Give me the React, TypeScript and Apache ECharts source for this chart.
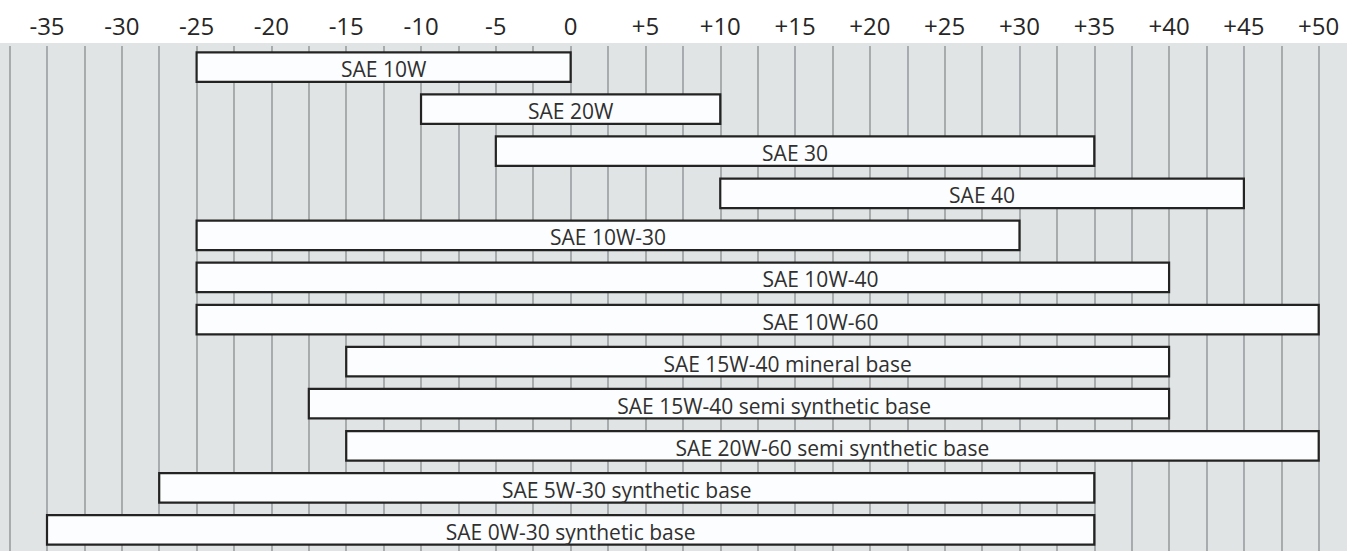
import React, { useEffect, useRef } from "react";
import * as echarts from "echarts";

const categories = [
  "SAE 10W",
  "SAE 20W",
  "SAE 30",
  "SAE 40",
  "SAE 10W-30",
  "SAE 10W-40",
  "SAE 10W-60",
  "SAE 15W-40 mineral base",
  "SAE 15W-40 semi synthetic base",
  "SAE 20W-60 semi synthetic base",
  "SAE 5W-30 synthetic base",
  "SAE 0W-30 synthetic base",
];
const startValues = [-25, -10, -5, 10, -25, -25, -25, -15, -17.5, -15, -27.5, -35];
const endValues = [0, 10, 35, 45, 30, 40, 50, 40, 40, 50, 35, 35];
// label centre (°C) where the label is not centred in its bar; null = centred
const labelCenters: (number | null)[] = [null, null, null, null, null, 16.7, 16.7, 14.5, 13.6, null, null, null];
const tickLabels: Record<string, string> = {
  "-35": "-35", "-30": "-30", "-25": "-25", "-20": "-20", "-15": "-15", "-10": "-10", "-5": "-5",
  "0": "0", "5": "+5", "10": "+10", "15": "+15", "20": "+20", "25": "+25", "30": "+30",
  "35": "+35", "40": "+40", "45": "+45", "50": "+50",
};

export default function App() {
  const ref = useRef<HTMLDivElement>(null);
  useEffect(() => {
    document.body.style.margin = "0";
    const chart = echarts.init(ref.current!, null, { renderer: "svg" });
    const data = categories.map((c, i) => [
      i,
      startValues[i],
      endValues[i],
      labelCenters[i] ?? (startValues[i] + endValues[i]) / 2,
    ]);
    chart.setOption({
      animation: false,
      backgroundColor: "#ffffff",
      graphic: [
        {
          type: "rect",
          z: -10,
          shape: { x: 0, y: 43, width: 1347, height: 520 },
          style: { fill: "#e1e4e5" },
          silent: true,
        },
      ],
      grid: { left: 9.6, right: 28.3, top: 46, bottom: -1, containLabel: false },
      xAxis: {
        type: "value",
        position: "top",
        min: -37.5,
        max: 50,
        interval: 2.5,
        axisLine: { show: false },
        axisTick: { show: false },
        splitLine: { show: true, lineStyle: { color: "#9a9d9f", width: 1.6 } },
        axisLabel: {
          interval: 0,
          margin: 9,
          fontFamily: "Open Sans",
          fontSize: 24,
          color: "#262626",
          formatter: (v: number) => tickLabels[String(v)] ?? "",
        },
      },
      yAxis: {
        type: "category",
        data: categories,
        inverse: true,
        show: false,
      },
      series: [
        {
          type: "custom",
          encode: { x: [1, 2], y: 0 },
          data,
          renderItem: (params: any, api: any) => {
            const cat = api.value(0);
            const s = api.coord([api.value(1), cat]);
            const e = api.coord([api.value(2), cat]);
            const c = api.coord([api.value(3), cat]);
            const h = 29.5;
            return {
              type: "group",
              children: [
                {
                  type: "rect",
                  shape: { x: s[0], y: s[1] - h / 2, width: e[0] - s[0], height: h },
                  style: { fill: "#fcfdfe", stroke: "#232323", lineWidth: 2.2 },
                },
                {
                  type: "text",
                  x: c[0],
                  y: s[1] + 2,
                  style: {
                    text: categories[cat],
                    align: "center",
                    verticalAlign: "middle",
                    fontFamily: "Open Sans",
                    fontSize: 21,
                    fill: "#303030",
                  },
                },
              ],
            };
          },
        },
      ],
    });
    return () => chart.dispose();
  }, []);
  return <div ref={ref} style={{ width: 1347, height: 551 }} />;
}
